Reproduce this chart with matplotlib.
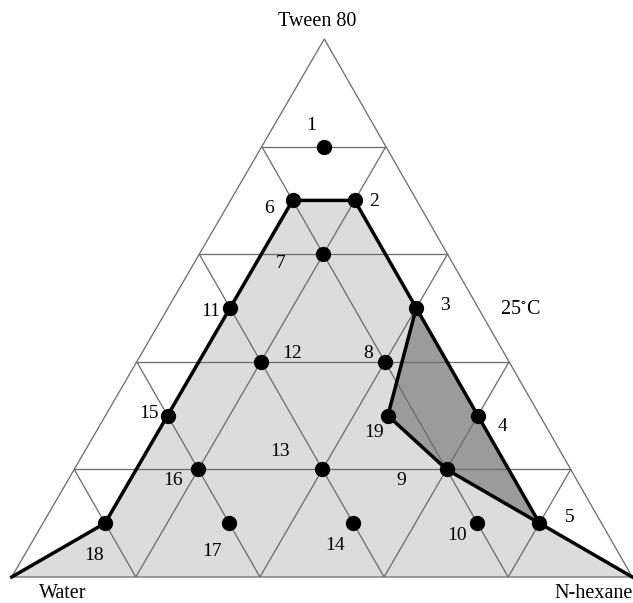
import numpy as np
import matplotlib
matplotlib.use("Agg")
import matplotlib.pyplot as plt
from matplotlib.patches import Polygon

plt.rcParams["font.family"] = ["Liberation Serif", "DejaVu Serif"]
plt.rcParams["mathtext.fontset"] = "stix"

# Compositions (mass fractions) of the tested formulations
point_ids = [1, 2, 3, 4, 5, 6, 7, 8, 9, 10, 11, 12, 13, 14, 15, 16, 17, 18, 19]
water  = [0.1, 0.1, 0.1, 0.1, 0.1, 0.2, 0.2, 0.2, 0.2, 0.2, 0.4, 0.4, 0.4, 0.4, 0.6, 0.6, 0.6, 0.8, 0.245]
hexane = [0.1, 0.2, 0.4, 0.6, 0.8, 0.1, 0.2, 0.4, 0.6, 0.7, 0.1, 0.2, 0.4, 0.5, 0.1, 0.2, 0.3, 0.1, 0.455]
tween  = [0.8, 0.7, 0.5, 0.3, 0.1, 0.7, 0.6, 0.4, 0.2, 0.1, 0.5, 0.4, 0.2, 0.1, 0.3, 0.2, 0.1, 0.1, 0.30]

# Phase boundaries, given as sequences of formulation numbers
outer_boundary = [18, 15, 11, 6, 2, 3, 4, 5]     # runs from the Water corner to the N-hexane corner
dark_region = [3, 4, 5, 9, 19]
inner_boundary = [3, 19, 9, 5]

# Label offsets (pixels) for each formulation number
label_dx = [-13, 19, 29, 25, 30, -24, -43, -17, -45, -20, -19, 31, -42, -18, -19, -25, -17, -11, -14]
label_dy = [21, -1, 3, -11, 6, -8, -9, 8, -11, -12, -3, 8, 18, -22, 2, -11, -28, -32, -17]

corner_names = ["Water", "N-hexane", "Tween 80"]
temperature = "25$^{\\circ}$C"
n_div = 5

# Triangle layout in figure pixels (y up)
W_px, H_px = 633, 603
P_water = np.array([11.7, 26.0])
P_hex = np.array([632.3, 26.0])
P_tw = np.array([324.3, 564.0])


def tern(h, t):
    h = np.asarray(h, float)
    t = np.asarray(t, float)
    w = 1 - h - t
    x = w * P_water[0] + h * P_hex[0] + t * P_tw[0]
    y = w * P_water[1] + h * P_hex[1] + t * P_tw[1]
    return x, y


idx = {pid: i for i, pid in enumerate(point_ids)}
H = np.array(hexane)
T = np.array(tween)

fig = plt.figure(figsize=(W_px / 100, H_px / 100), dpi=100)
ax = fig.add_axes([0, 0, 1, 1])
ax.set_xlim(0, W_px)
ax.set_ylim(0, H_px)
ax.axis("off")

# Light grey single-phase region
seq = [idx[p] for p in outer_boundary]
bx, by = tern(H[seq], T[seq])
poly_x = np.concatenate([[P_water[0]], bx, [P_hex[0]]])
poly_y = np.concatenate([[P_water[1]], by, [P_hex[1]]])
ax.add_patch(Polygon(np.column_stack([poly_x, poly_y]), closed=True,
                     facecolor="#dcdcdc", edgecolor="none", zorder=1))

# Dark grey region
seq_d = [idx[p] for p in dark_region]
dx_, dy_ = tern(H[seq_d], T[seq_d])
ax.add_patch(Polygon(np.column_stack([dx_, dy_]), closed=True,
                     facecolor="#9b9b9b", edgecolor="none", zorder=2))

# Triangular grid
grid_kw = dict(color="#6a6a6a", lw=0.9, zorder=3, solid_capstyle="butt")
for k in range(1, n_div):
    f = k / n_div
    # constant Tween
    x, y = tern([0, 1 - f], [f, f]); ax.plot(x, y, **grid_kw)
    # constant N-hexane
    x, y = tern([f, f], [0, 1 - f]); ax.plot(x, y, **grid_kw)
    # constant water
    x, y = tern([1 - f, 0], [0, 1 - f]); ax.plot(x, y, **grid_kw)
x, y = tern([0, 1, 0, 0], [0, 0, 1, 0])
ax.plot(x, y, **grid_kw)

# Phase boundary lines
ax.plot(poly_x, poly_y, color="black", lw=2.5, zorder=4, solid_joinstyle="miter")
seq_i = [idx[p] for p in inner_boundary]
ix, iy = tern(H[seq_i], T[seq_i])
ax.plot(ix, iy, color="black", lw=2.5, zorder=4)

# Formulation points
px, py = tern(H, T)
ax.plot(px, py, "o", color="black", ms=10, zorder=5, linestyle="none")

for i, pid in enumerate(point_ids):
    ax.annotate(str(pid), (px[i], py[i]), xytext=(label_dx[i], label_dy[i]),
                textcoords="offset pixels", ha="center", va="center",
                fontsize=14, zorder=6)

# Corner labels
ax.text(317.3, H_px - 21.7, corner_names[2], ha="center", va="center", fontsize=14.5)
ax.text(62.3, H_px - 594, corner_names[0], ha="center", va="center", fontsize=14.5)
ax.text(633, H_px - 594, corner_names[1], ha="right", va="center", fontsize=14.5)
ax.text(520, H_px - 310, temperature, ha="center", va="center", fontsize=14.5)

fig.savefig("out.png", dpi=100)
